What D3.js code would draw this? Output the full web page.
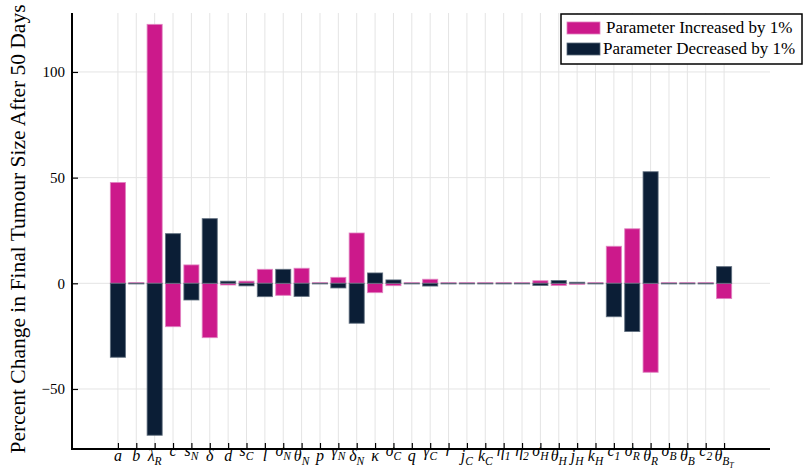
<!DOCTYPE html>
<html>
<head>
<meta charset="utf-8">
<script src="https://cdn.jsdelivr.net/npm/d3@7"></script>
<style>
  html, body { margin: 0; padding: 0; background: #fff; }
  svg { display: block; }
  text { font-family: "Liberation Serif", "DejaVu Serif", serif; fill: #000; }
</style>
</head>
<body>
<svg id="chart" width="805" height="471"></svg>
<script>
// Model parameters (base_sub or base_sub_subsub)
const parameters = ["a","b","λ_R","c","s_N","δ","d","s_C","l","σ_N","θ_N","p","γ_N","δ_N","κ","σ_C","q","γ_C","r","j_C","k_C","η_1","η_2","σ_H","θ_H","j_H","k_H","c_1","σ_R","θ_R","σ_B","θ_B","c_2","θ_B_T"];

// Percent change in final tumour size after 50 days
const increased = [47.7, 0.3, 122.5, -20.5, 8.7, -25.7, -0.8, 1.0, 6.6, -5.7, 7.1, 0.3, 2.8, 23.8, -4.4, -1.1, 0.3, 1.9, 0.3, 0.3, 0.3, 0.3, 0.3, 1.2, -1.0, -0.5, 0.3, 17.5, 25.8, -42.1, 0.3, 0.3, 0.3, -7.2];
const decreased = [-35.0, -0.3, -71.9, 23.5, -7.9, 30.6, 1.0, -1.2, -6.3, 6.6, -6.2, -0.3, -2.2, -18.9, 4.9, 1.6, -0.3, -1.3, -0.3, -0.3, -0.3, -0.3, -0.3, -1.0, 1.3, 0.5, -0.3, -15.8, -22.8, 52.8, -0.3, -0.3, -0.3, 7.9];

const yTicks = [-50, 0, 50, 100];
const seriesNames = ["Parameter Increased by 1%", "Parameter Decreased by 1%"];
const seriesColors = ["#cc198b", "#0b1e36"];

const svg = d3.select("#chart");
const m = { left: 72, right: 770, top: 13, bottom: 449 };

const x = d3.scalePoint().domain(parameters).range([m.left, m.right]).padding(2.5);
const y = d3.scaleLinear().domain([-78.4, 127.9]).range([m.bottom, m.top]);
const barW = x.step() * 0.82;

// grid
const grid = svg.append("g").attr("stroke", "#e4e4e4").attr("stroke-width", 1);
grid.selectAll("line.v").data(parameters).join("line")
  .attr("x1", d => x(d)).attr("x2", d => x(d))
  .attr("y1", m.top).attr("y2", m.bottom);
grid.selectAll("line.h").data(yTicks).join("line")
  .attr("x1", m.left).attr("x2", m.right)
  .attr("y1", d => y(d)).attr("y2", d => y(d));

// bars: increased first, decreased drawn over it
[increased, decreased].forEach((vals, si) => {
  svg.append("g").selectAll("rect").data(vals).join("rect")
    .attr("x", (d, i) => x(parameters[i]) - barW / 2)
    .attr("width", barW)
    .attr("y", d => Math.min(y(d), y(0)))
    .attr("height", d => Math.abs(y(d) - y(0)))
    .attr("fill", seriesColors[si])
    .attr("stroke", si === 0 ? "#e07fbf" : "#5d6b7c")
    .attr("stroke-opacity", 0.8)
    .attr("stroke-width", 1);
});

// y axis
const yAxis = d3.axisLeft(y).tickValues(yTicks).tickSize(-6).tickPadding(7)
  .tickFormat(d => d < 0 ? "\u2212" + Math.abs(d) : d);
const gy = svg.append("g").attr("transform", `translate(${m.left},0)`).call(yAxis);
gy.select(".domain").remove();
gy.selectAll(".tick line").attr("stroke", "#000").attr("stroke-width", 1.2);
gy.selectAll(".tick text").style("font-family", '"Liberation Serif", serif').style("font-size", "15px").attr("fill", "#000");

// x axis ticks
const xAxis = d3.axisBottom(x).tickSize(-6).tickFormat("");
const gx = svg.append("g").attr("transform", `translate(0,${m.bottom})`).call(xAxis);
gx.select(".domain").remove();
gx.selectAll(".tick line").attr("stroke", "#000").attr("stroke-width", 1.2);

// axis lines
svg.append("line").attr("x1", m.left).attr("x2", m.left).attr("y1", m.top).attr("y2", m.bottom + 1)
  .attr("stroke", "#000").attr("stroke-width", 2);
svg.append("line").attr("x1", m.left - 1).attr("x2", m.right).attr("y1", m.bottom).attr("y2", m.bottom)
  .attr("stroke", "#000").attr("stroke-width", 2);

// x tick labels in math italic with subscripts
const raisedBases = new Set(["c", "s", "σ", "γ", "η", "r"]);
parameters.forEach(p => {
  const parts = p.split("_");
  const base = parts[0];
  const t = svg.append("text")
    .attr("x", x(p))
    .attr("y", raisedBases.has(base) ? 456 : 461)
    .attr("text-anchor", "middle")
    .style("font-style", "italic")
    .style("font-size", "16px");
  t.append("tspan").text(base);
  if (parts[1]) {
    t.append("tspan").attr("dy", 4).style("font-size", "11.5px").text(parts[1]);
  }
  if (parts[2]) {
    t.append("tspan").attr("dy", 3).style("font-size", "8px").text(parts[2]);
  }
});

// y label
svg.append("text")
  .attr("transform", `translate(25,229) rotate(-90)`)
  .attr("text-anchor", "middle")
  .style("font-size", "21.5px")
  .text("Percent Change in Final Tumour Size After 50 Days");

// legend
const lg = svg.append("g");
lg.append("rect").attr("x", 561).attr("y", 14).attr("width", 241).attr("height", 50)
  .attr("fill", "#fff").attr("stroke", "#000").attr("stroke-width", 1.5);
seriesNames.forEach((name, i) => {
  const yy = 28 + i * 21;
  lg.append("rect").attr("x", 567).attr("y", yy - 6).attr("width", 33).attr("height", 12)
    .attr("fill", seriesColors[i]).attr("stroke", i === 0 ? "#e07fbf" : "#5d6b7c").attr("stroke-width", 0.8);
  lg.append("text").attr("x", i === 0 ? 606 : 603).attr("y", yy + 5)
    .style("font-size", "17px").text(name);
});
</script>
</body>
</html>
